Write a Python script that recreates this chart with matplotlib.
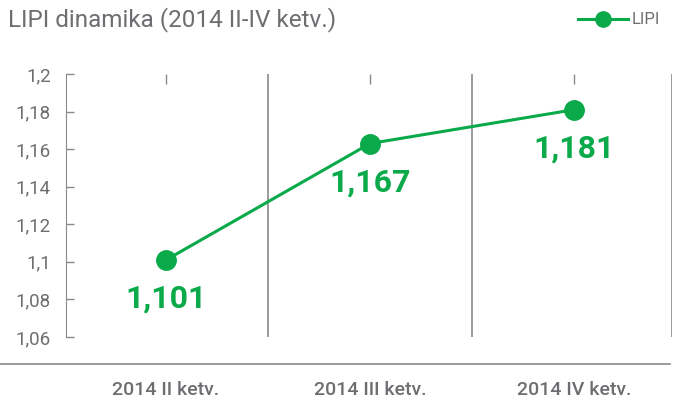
import matplotlib
matplotlib.use("Agg")
import matplotlib.pyplot as plt
from matplotlib.lines import Line2D

categories = ["2014 II ketv.", "2014 III ketv.", "2014 IV ketv."]
values = [1.101, 1.163, 1.181]
value_labels = ["1,101", "1,167", "1,181"]
yticks = [1.06, 1.08, 1.1, 1.12, 1.14, 1.16, 1.18, 1.2]
ytick_labels = ["1,06", "1,08", "1,1", "1,12", "1,14", "1,16", "1,18", "1,2"]
title = "LIPI dinamika (2014 II-IV ketv.)"
series_name = "LIPI"

GREEN = "#0AAA4B"
GRAY = "#6d6e71"
LGRAY = "#8a8a8a"
FONT = "Roboto"

W, H = 673, 401
fig = plt.figure(figsize=(W / 100, H / 100), dpi=100)
ax = fig.add_axes([66 / W, 1 - 337 / H, (672 - 66) / W, (337 - 74) / H])

x = list(range(len(categories)))
ax.plot(x, values, color=GREEN, lw=2.2, marker="o", ms=14, zorder=3, clip_on=False)
for xi, v, lab in zip(x, values, value_labels):
    ax.annotate(lab, (xi, v), xytext=(0, -28), textcoords="offset points",
                ha="center", va="center", color=GREEN, fontsize=23,
                fontweight="bold", family=FONT)

ax.set_xlim(-0.49, 2.48)
ax.set_ylim(1.06, 1.2)
ax.set_yticks(yticks)
ax.set_yticklabels(ytick_labels, color=GRAY, fontsize=13.5, family=FONT)
ax.tick_params(axis="y", direction="in", length=6, width=1, color=LGRAY, pad=11)

ax.set_xticks(x)
ax.set_xticklabels(categories, color=GRAY, fontsize=14, family=FONT, fontweight="medium")
ax.tick_params(axis="x", bottom=False, top=True, direction="in", length=7,
               width=1, color=LGRAY, pad=32)

for s in ["top", "right", "bottom"]:
    ax.spines[s].set_visible(False)
ax.spines["left"].set_color(LGRAY)

for b in [0.5, 1.5, 2.48]:
    ax.axvline(b, color=LGRAY, lw=1.2, zorder=1)

fig.add_artist(Line2D([0, 670 / W], [1 - 364 / H, 1 - 364 / H],
                      transform=fig.transFigure, color=LGRAY, lw=1.2))

fig.text(8 / W, 1 - 20 / H, title, ha="left", va="center", color=GRAY,
         fontsize=17.5, family=FONT)

leg = fig.legend(handles=[Line2D([], [], color=GREEN, lw=2.2, marker="o", ms=11)],
                 labels=[series_name], loc="center right",
                 bbox_to_anchor=(667 / W, 1 - 20 / H), frameon=False,
                 handlelength=3.0, handletextpad=0.25, borderaxespad=0,
                 prop={"family": FONT, "size": 12})
for t in leg.get_texts():
    t.set_color(GRAY)

fig.savefig("out.png", dpi=100)
